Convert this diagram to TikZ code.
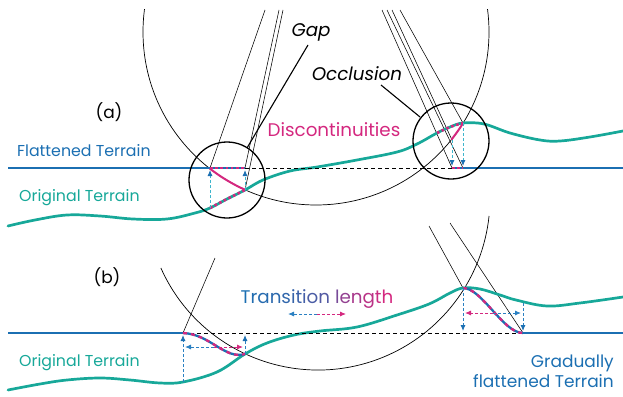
\documentclass[tikz,border=0pt]{standalone}
\usepackage{fontspec}
\setmainfont{Poppins}
\usetikzlibrary{arrows.meta,calc}
\definecolor{tblue}{HTML}{1B6FB2}
\definecolor{tteal}{HTML}{17A899}
\definecolor{tmag}{HTML}{D4287F}
\definecolor{tcyan}{HTML}{3DB5CC}
\definecolor{tdblue}{HTML}{2A80C2}
\newcommand{\lbl}{\fontsize{17}{20}\selectfont}
\newcommand{\lblS}{\fontsize{15.8}{19}\selectfont}
\newcommand{\lblL}{\fontsize{18.3}{21}\selectfont}
\begin{document}
\begin{tikzpicture}[x=1pt,y=-1pt,
  terr/.style={tteal,line width=2.7pt,line cap=round},
  flat/.style={tblue,line width=2.6pt},
  magdots/.style={tmag,line width=2.6pt,dash pattern=on 2.6pt off 2.6pt},
  magdash/.style={tmag,line width=2.3pt,dash pattern=on 4pt off 4pt},
  ray/.style={black,line width=0.55pt},
  bigc/.style={black,line width=0.7pt},
  smallc/.style={black,line width=1.3pt},
  leader/.style={black,line width=1.1pt},
  blackdash/.style={black,line width=0.8pt,dash pattern=on 4pt off 3pt},
  vcyan/.style={tcyan,line width=0.9pt,dash pattern=on 3pt off 2pt,-{Latex[length=6pt,width=5pt,color=tblue]}},
  vblue/.style={tdblue,line width=0.9pt,dash pattern=on 3pt off 2pt,-{Latex[length=6pt,width=5pt,color=tblue]}},
  hblue/.style={tdblue,line width=0.9pt,dash pattern=on 3pt off 2pt,-{Latex[length=6pt,width=5pt]}},
  hmag/.style={tmag,line width=0.9pt,dash pattern=on 3pt off 2pt,-{Latex[length=6pt,width=5pt]}},
  txt/.style={inner sep=0pt,font=\lbl}
]
\useasboundingbox (0,0) rectangle (623,396);

% ---------------- panel (a) ----------------
\coordinate (ca) at (316,32);
\coordinate (A1) at (210,168);
\coordinate (A2) at (245,168);
\coordinate (A3) at (210,208);
\coordinate (A4) at (245,190);
\coordinate (B1) at (452,168);
\coordinate (B2) at (463,168);
\coordinate (B3) at (452,140);
\coordinate (B4) at (463,123);

\begin{scope}
\clip (0,10) rectangle (623,396);
\draw[bigc] (ca) circle[radius=173];
\draw[ray] (265,10) -- (A1);
\draw[ray] (279,10) -- (A2);
\draw[ray] (283,10) -- (A4);
\draw[ray] (382,10) -- (B1);
\draw[ray] (387,10) -- (B2);
\draw[ray] (392,10) -- (B3);
\draw[ray] (400,10) -- (B4);
\end{scope}

% terrain (a)
\draw[terr] plot[smooth,tension=0.6] coordinates {(8,226) (35,220) (67,215) (100,216) (133,219) (167,219) (195,213) (210,208) (227,199) (245,190) (263,180) (290,171) (317,167) (357,160) (397,152) (417,144) (437,133) (450,127) (463,123) (484,124) (510,133) (540,140) (560,141) (590,137) (623,131)};
\draw[magdots] plot[smooth,tension=0.6] coordinates {(210,208) (227,199) (245,190)};
\draw[magdots] plot[smooth,tension=0.6] coordinates {(437,133) (450,127) (463,123)};

% flattened (a)
\draw[flat] (8,168) -- (A2);
\draw[flat] (B1) -- (623,168);
\draw[magdots] (A1) -- (A2);
\draw[magdots] (B1) -- (B2);
\draw[blackdash] (A2) -- (B1);

% discontinuity arcs
\draw[tmag,line width=2pt] ($(ca)+(127.9:173)$) arc[start angle=127.9,end angle=114.2,radius=173];
\draw[tmag,line width=2pt] ($(ca)+(31.8:173)$) arc[start angle=31.8,end angle=38.5,radius=173];

% vertical arrows (a)
\draw[vcyan] (A3) -- (210,170);
\draw[vcyan] (A4) -- (245,170);
\draw[vcyan] (B3) -- (452,166);
\draw[vcyan] (B4) -- (463,166);

% small circles
\draw[smallc] (227,180) circle[radius=38];
\draw[smallc] (451,141) circle[radius=38];

% labels (a)
\node[txt,font=\lblS,anchor=base west,text=tblue] (tflat) at (17,156) {Flattened Terrain};
\node[txt,font=\lblS,anchor=base west,text=tteal] (torig) at (19,201) {Original Terrain};
\node[txt,anchor=base] (ta) at (109,118) {(a)};
\node[txt,font=\lblL,anchor=base] (tgap) at (311,37) {\itshape Gap};
\node[txt,font=\lblL,anchor=base] (tocc) at (357,80) {\itshape Occlusion};
\node[txt,font=\lblL,anchor=base,text=tmag] (tdisc) at (334,136) {Discontinuities};
\coordinate (gl) at (308,45);
\coordinate (ol) at (381,85);
\draw[leader] (gl) -- (247,148);
\draw[leader] (ol) -- (420,117);

% ---------------- panel (b) ----------------
\coordinate (cb) at (318,198);
\coordinate (C1) at (183,333);
\coordinate (C2) at (245,333);
\coordinate (C3) at (183,382);
\coordinate (C4) at (245,354);
\coordinate (D1) at (463,333);
\coordinate (D2) at (523,333);
\coordinate (D3) at (463,288);
\coordinate (D4) at (523,303);

\draw[bigc] ($(cb)+(156:172)$) arc[start angle=156,end angle=6,radius=172];
\draw[ray] (215,258) -- (C1);
\draw[ray] (429,226) -- (D3);
\draw[ray] (450,223) -- (D2);

\draw[terr] plot[smooth,tension=0.6] coordinates {(8,390) (40,384) (67,380) (100,378) (130,380) (160,383) (183,382) (217,372) (245,354) (267,343) (294,335) (320,331) (357,327) (397,315) (429,304) (450,293) (463,288) (480,289) (500,295) (516,300) (547,306) (580,303) (623,297)};

\draw[flat] (8,333) -- (C1);
\draw[flat] (D2) -- (623,333);
\draw[blackdash] (C1) -- (D2);

\draw[tblue,line width=2.3pt] (C1) .. controls (210,334) and (225,360) .. (C4);
\draw[magdash] (C1) .. controls (210,334) and (225,360) .. (C4);
\draw[tblue,line width=2.3pt] (D3) .. controls (482,288) and (503,333) .. (D2);
\draw[magdash] (D3) .. controls (482,288) and (503,333) .. (D2);

\draw[vblue] (C3) -- (183,335);
\draw[vblue] (C4) -- (245,335);
\draw[vblue] (D3) -- (463,331);
\draw[vblue] (D4) -- (523,331);

\coordinate (h1) at (214,347);
\draw[hblue] (h1) -- (185,347);
\draw[hmag] (h1) -- (243,347);
\coordinate (h2) at (493,313);
\draw[hmag] (h2) -- (465,313);
\draw[hblue] (h2) -- (521,313);
\coordinate (h3) at (317,314);
\draw[hblue] (h3) -- (288,314);
\draw[hmag] (h3) -- (346,314);

\node[txt,anchor=base] (tb) at (107,283) {(b)};
\node[txt,font=\lblL,anchor=base] (ttrans) at (317,303) {%
\textcolor{tblue!100!tmag}{T}\textcolor{tblue!97!tmag}{r}\textcolor{tblue!94!tmag}{a}\textcolor{tblue!91!tmag}{n}\textcolor{tblue!88!tmag}{s}\textcolor{tblue!85!tmag}{i}\textcolor{tblue!82!tmag}{t}\textcolor{tblue!78!tmag}{i}\textcolor{tblue!74!tmag}{o}\textcolor{tblue!70!tmag}{n} \textcolor{tblue!50!tmag}{l}\textcolor{tblue!35!tmag}{e}\textcolor{tblue!24!tmag}{n}\textcolor{tblue!14!tmag}{g}\textcolor{tblue!6!tmag}{t}\textcolor{tblue!0!tmag}{h}};
\node[txt,font=\lblS,anchor=base west,text=tteal] (torigb) at (19,366) {Original Terrain};
\node[txt,anchor=base east,text=tblue] (tgrad) at (614,367) {Gradually};
\node[txt,anchor=base east,text=tblue] (tflatb) at (614,387) {flattened Terrain};
\end{tikzpicture}
\end{document}
